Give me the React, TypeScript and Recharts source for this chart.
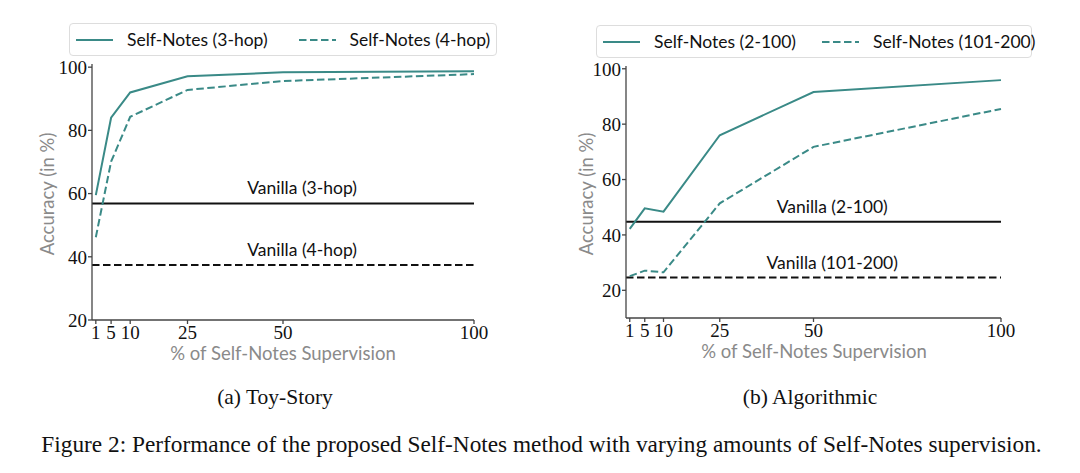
import React from "react";
import { LineChart, Line, XAxis, YAxis, ReferenceLine } from "recharts";

// % of Self-Notes supervision
const supervision = [1, 5, 10, 25, 50, 100];
const xTicks = [1, 5, 10, 25, 50, 100];
const yTicks = [20, 40, 60, 80, 100];

// (a) Toy-Story
const toy3hop = [59.5, 84, 92, 97.1, 98.4, 98.7];
const toy4hop = [46.2, 70.1, 84.3, 92.8, 95.6, 97.8];
const vanillaToy3hop = 56.9;
const vanillaToy4hop = 37.4;

// (b) Algorithmic
const algo2to100 = [42.2, 49.6, 48.4, 76, 91.6, 95.9];
const algo101to200 = [25.1, 27.1, 26.5, 51.4, 71.8, 85.5];
const vanillaAlgo2to100 = 44.8;
const vanillaAlgo101to200 = 24.6;

const TEAL = "#3a8a87";
const AXIS = "#444";
const DASH = "7.5 3.5";
const SANS = "Lato, 'DejaVu Sans', sans-serif";
const SERIF = "'Liberation Serif', 'DejaVu Serif', serif";

const toyData = supervision.map((x, i) => ({ x, a: toy3hop[i], b: toy4hop[i] }));
const algoData = supervision.map((x, i) => ({ x, a: algo2to100[i], b: algo101to200[i] }));

const vanillaLabel = (text: string) => (props: any) => {
    const { viewBox } = props;
    const x = viewBox.x + viewBox.width * 0.55;
    return (
        <text x={x} y={viewBox.y - 9} textAnchor="middle" fontFamily={SANS} fontSize={17.5} fill="#111">
            {text}
        </text>
    );
};

interface PanelProps {
    left: number;
    data: { x: number; a: number; b: number }[];
    yDomain: [number, number];
    margin: { top: number; right: number; left: number; bottom: number };
    vanillaA: number;
    vanillaB: number;
    labelA: string;
    labelB: string;
    names: [string, string];
}

const Panel: React.FC<PanelProps> = ({ left, data, yDomain, margin, vanillaA, vanillaB, labelA, labelB, names }) => (
    <div style={{ position: "absolute", left, top: 0, width: 540, height: 380 }}>
        <LineChart width={540} height={380} data={data} margin={margin}>
            <XAxis
                dataKey="x"
                type="number"
                domain={[0, 100]}
                ticks={xTicks}
                height={30}
                tickSize={4}
                tickMargin={2}
                stroke={AXIS}
                strokeWidth={1.3}
                tick={{ fontFamily: SERIF, fontSize: 19, fill: "#111" }}
                interval={0}
            />
            <YAxis
                type="number"
                domain={yDomain}
                ticks={yTicks}
                width={40}
                tickSize={4}
                tickMargin={1}
                stroke={AXIS}
                strokeWidth={1.3}
                tick={{ fontFamily: SERIF, fontSize: 19, fill: "#111" }}
                allowDataOverflow
            />
            <ReferenceLine y={vanillaA} stroke="#111" strokeWidth={2} label={vanillaLabel(labelA)} />
            <ReferenceLine y={vanillaB} stroke="#111" strokeWidth={2} strokeDasharray={DASH} label={vanillaLabel(labelB)} />
            <Line dataKey="a" name={names[0]} stroke={TEAL} strokeWidth={2} dot={false} isAnimationActive={false} />
            <Line dataKey="b" name={names[1]} stroke={TEAL} strokeWidth={2} strokeDasharray={DASH} dot={false} isAnimationActive={false} />
        </LineChart>
    </div>
);

interface LegendProps {
    box: { left: number; top: number; width: number; height: number };
    names: [string, string];
    gap: number;
}

const LegendBox: React.FC<LegendProps> = ({ box, names, gap }) => (
    <div
        style={{
            position: "absolute",
            ...box,
            boxSizing: "border-box",
            border: "1px solid #ddd",
            borderRadius: 4,
            background: "#fff",
            display: "flex",
            alignItems: "center",
            paddingLeft: 6,
            fontFamily: SANS,
            fontSize: 17.5,
            color: "#111",
            whiteSpace: "nowrap",
        }}
    >
        {names.map((n, i) => (
            <div key={n} style={{ display: "flex", alignItems: "center", flexShrink: 0, marginLeft: i === 0 ? 0 : gap }}>
                <svg width={37} height={6}>
                    <line x1={0} x2={37} y1={3} y2={3} stroke={TEAL} strokeWidth={2} strokeDasharray={i === 0 ? undefined : DASH} />
                </svg>
                <span style={{ marginLeft: 14 }}>{n}</span>
            </div>
        ))}
    </div>
);

const axisLabel: React.CSSProperties = {
    position: "absolute",
    fontFamily: SANS,
    fontSize: 18.5,
    color: "#8a8a8a",
    whiteSpace: "nowrap",
};

const caption: React.CSSProperties = {
    position: "absolute",
    transform: "translateX(-50%)",
    fontFamily: SERIF,
    color: "#111",
    whiteSpace: "nowrap",
};

export default function App() {
    return (
        <div style={{ position: "absolute", left: 0, top: 0, width: 1080, height: 473, background: "#fff", overflow: "hidden" }}>
            <Panel
                left={0}
                data={toyData}
                yDomain={[20, 101]}
                margin={{ top: 64, right: 66, left: 52, bottom: 30 }}
                vanillaA={vanillaToy3hop}
                vanillaB={vanillaToy4hop}
                labelA="Vanilla (3-hop)"
                labelB="Vanilla (4-hop)"
                names={["Self-Notes (3-hop)", "Self-Notes (4-hop)"]}
            />
            <Panel
                left={540}
                data={algoData}
                yDomain={[10, 101]}
                margin={{ top: 66, right: 79, left: 46, bottom: 32 }}
                vanillaA={vanillaAlgo2to100}
                vanillaB={vanillaAlgo101to200}
                labelA="Vanilla (2-100)"
                labelB="Vanilla (101-200)"
                names={["Self-Notes (2-100)", "Self-Notes (101-200)"]}
            />

            <LegendBox box={{ left: 69, top: 23, width: 428, height: 33 }} names={["Self-Notes (3-hop)", "Self-Notes (4-hop)"]} gap={31} />
            <LegendBox box={{ left: 596, top: 25, width: 436, height: 33 }} names={["Self-Notes (2-100)", "Self-Notes (101-200)"]} gap={26} />

            <div style={{ ...axisLabel, left: 283, top: 342, transform: "translateX(-50%)" }}>% of Self-Notes Supervision</div>
            <div style={{ ...axisLabel, left: 814, top: 340, transform: "translateX(-50%)" }}>% of Self-Notes Supervision</div>
            <div style={{ ...axisLabel, left: 47, top: 194, transform: "translate(-50%, -50%) rotate(-90deg)" }}>Accuracy (in %)</div>
            <div style={{ ...axisLabel, left: 586, top: 194, transform: "translate(-50%, -50%) rotate(-90deg)" }}>Accuracy (in %)</div>

            <div style={{ ...caption, left: 275, top: 385, fontSize: 21.5 }}>(a) Toy-Story</div>
            <div style={{ ...caption, left: 810, top: 385, fontSize: 21.5 }}>(b) Algorithmic</div>
            <div style={{ ...caption, left: 541.5, top: 431, fontSize: 23.3 }}>
                Figure 2: Performance of the proposed Self-Notes method with varying amounts of Self-Notes supervision.
            </div>
        </div>
    );
}
